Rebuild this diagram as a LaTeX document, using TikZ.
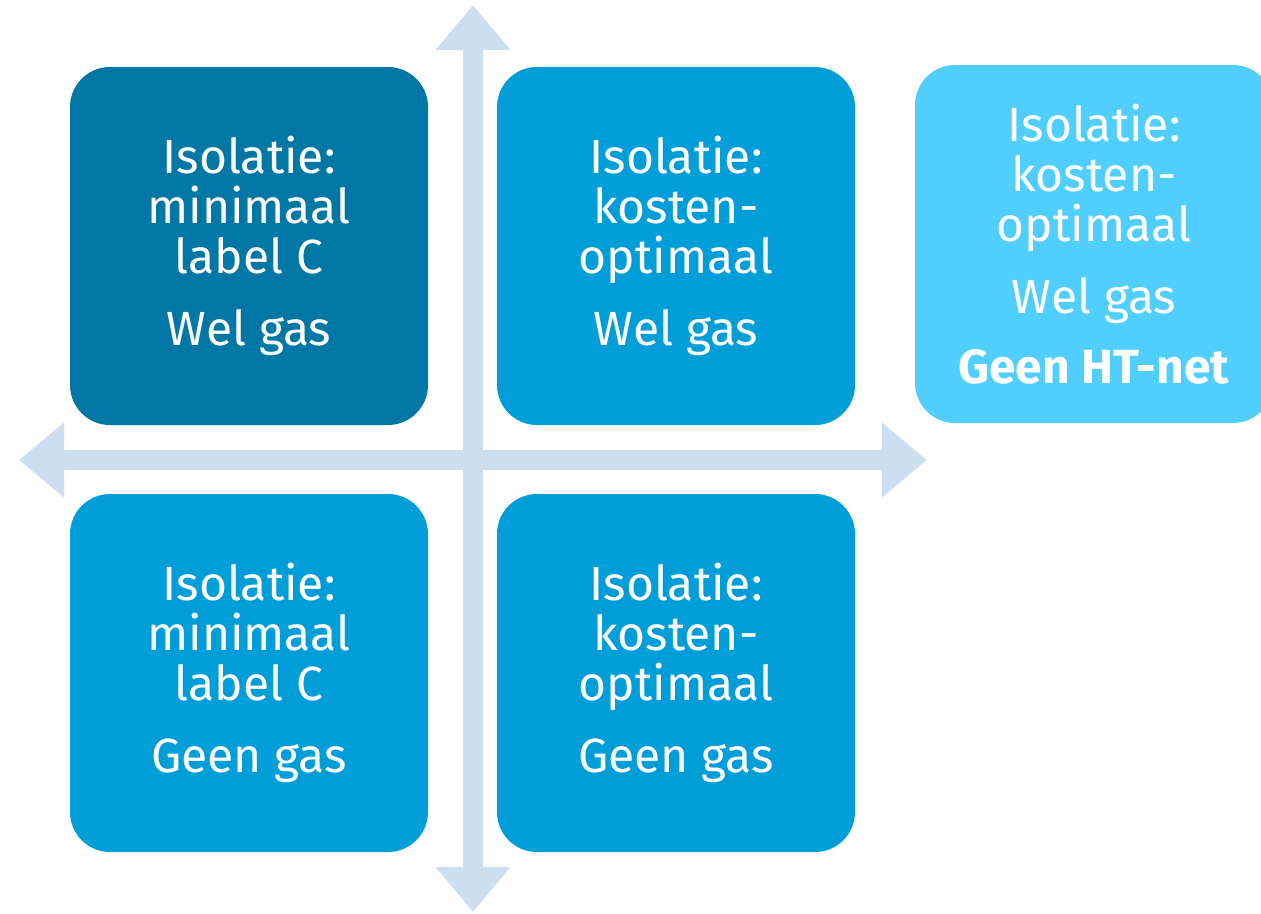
\documentclass[tikz,border=0pt]{standalone}
\usepackage{fontspec}
\setmainfont{Fira Sans}
\usetikzlibrary{arrows.meta}
\definecolor{boxdark}{RGB}{0,119,164}
\definecolor{boxmid}{RGB}{0,158,217}
\definecolor{boxlight}{RGB}{80,207,255}
\definecolor{axisblue}{RGB}{204,223,240}
\begin{document}
\begin{tikzpicture}[x=1pt,y=-1pt]
  \tikzstyle{every node}+=[inner sep=0pt]
  \tikzstyle{quad}=[rounded corners=40pt, minimum width=358pt, minimum height=358pt, text=white, align=center, font=\fontsize{48}{50}\selectfont]
  \tikzstyle{axis}=[axisblue, line width=20pt, {Triangle[width=72pt,length=45pt]}-{Triangle[width=72pt,length=45pt]}]
  \clip (0,0) rectangle (1261,913);
  \coordinate (top) at (473,5);
  \coordinate (bottom) at (473,912);
  \coordinate (left) at (19,460);
  \coordinate (right) at (927,460);
  \draw [axis] (top) -- (bottom);
  \draw [axis] (left) -- (right);
  \node [quad, fill=boxdark] (minwel) at (249,246) {Isolatie:\\minimaal\\label C\\[22pt]Wel gas};
  \node [quad, fill=boxmid] (kostwel) at (676,246) {Isolatie:\\kosten-\\optimaal\\[22pt]Wel gas};
  \node [quad, fill=boxlight] (kostht) at (1094,244) {Isolatie:\\kosten-\\optimaal\\[22pt]Wel gas\\[20pt]\textbf{Geen HT-net}};
  \node [quad, fill=boxmid] (mingeen) at (249,673) {Isolatie:\\minimaal\\label C\\[22pt]Geen gas};
  \node [quad, fill=boxmid] (kostgeen) at (676,673) {Isolatie:\\kosten-\\optimaal\\[22pt]Geen gas};
\end{tikzpicture}
\end{document}
